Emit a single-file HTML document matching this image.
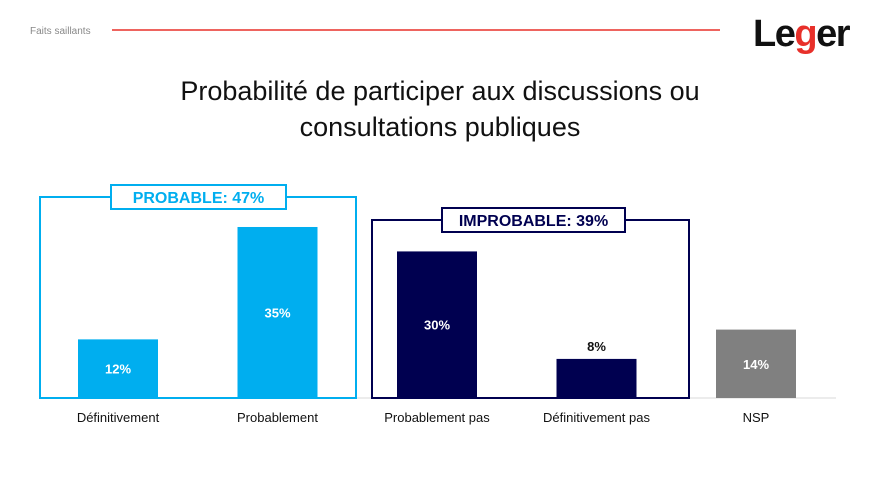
<!DOCTYPE html>
<html><head><meta charset="utf-8"><style>
body{margin:0;width:880px;height:495px;background:#fff;overflow:hidden;font-family:"Liberation Sans",sans-serif;}
</style></head><body>
<svg width="880" height="495" xmlns="http://www.w3.org/2000/svg">
<text x="30" y="34" font-size="10" fill="#888">Faits saillants</text>
<line x1="112" y1="30" x2="720" y2="30" stroke="#e8302a" stroke-width="1.5"/>
<text x="753" y="46" font-size="38" font-weight="bold" fill="#111" letter-spacing="-1.5">Le<tspan fill="#e8302a">g</tspan>er</text>
<text x="440" y="100" font-size="27" text-anchor="middle" fill="#111">Probabilité de participer aux discussions ou</text>
<text x="440" y="136" font-size="27" text-anchor="middle" fill="#111">consultations publiques</text>
<g id="chart"></g>
</svg>
<script>
const categories=["Définitivement","Probablement","Probablement pas","Définitivement pas","NSP"];
const values=[12,35,30,8,14];
const colors=["#00aeef","#00aeef","#000050","#000050","#808080"];
const groupLabels=["PROBABLE: 47%","IMPROBABLE: 39%"];
const NS="http://www.w3.org/2000/svg";
const g=document.getElementById('chart');
const base=398,scale=4.886;
const xc=i=>118+i*159.5;
const y=v=>base-v*scale;
function el(t,a,txt){const e=document.createElementNS(NS,t);for(const k in a)e.setAttribute(k,a[k]);if(txt!=null)e.textContent=txt;g.appendChild(e);return e;}
const ax=el('line',{x1:40,y1:base,x2:836,y2:base,stroke:'#d9d9d9','stroke-width':1});


const boxes=[{x:40,top:197,w:316,c:'#00aeef',lx:111,lw:175,ltop:185},{x:372,top:220,w:317,c:'#000050',lx:442,lw:183,ltop:208}];
boxes.forEach((b,i)=>{
 const r=el('rect',{x:b.x,y:b.top,width:b.w,height:base-b.top,fill:'none',stroke:b.c,'stroke-width':2});
 
 
 const lr=el('rect',{x:b.lx,y:b.ltop,width:b.lw,height:24,fill:'#fff',stroke:b.c,'stroke-width':2});
 
 
 const lt=el('text',{x:b.lx+b.lw/2,y:b.ltop+18,'font-size':16,'font-weight':'bold','text-anchor':'middle',fill:b.c},groupLabels[i]);
 
 
});
values.forEach((v,i)=>{
 const r=el('rect',{x:xc(i)-40,y:y(v),width:80,height:v*scale,fill:colors[i]});
 
 
 const inside=v*scale>40;
 const t=el('text',{x:xc(i),y:inside?y(v)+v*scale/2+5:y(v)-8,'font-size':13,'font-weight':'bold','text-anchor':'middle',fill:inside?'#fff':'#111'},v+'%');
 
 
 const c=el('text',{x:xc(i),y:422,'font-size':13,'text-anchor':'middle',fill:'#111'},categories[i]);
 
 
});
</script>
</body></html>
